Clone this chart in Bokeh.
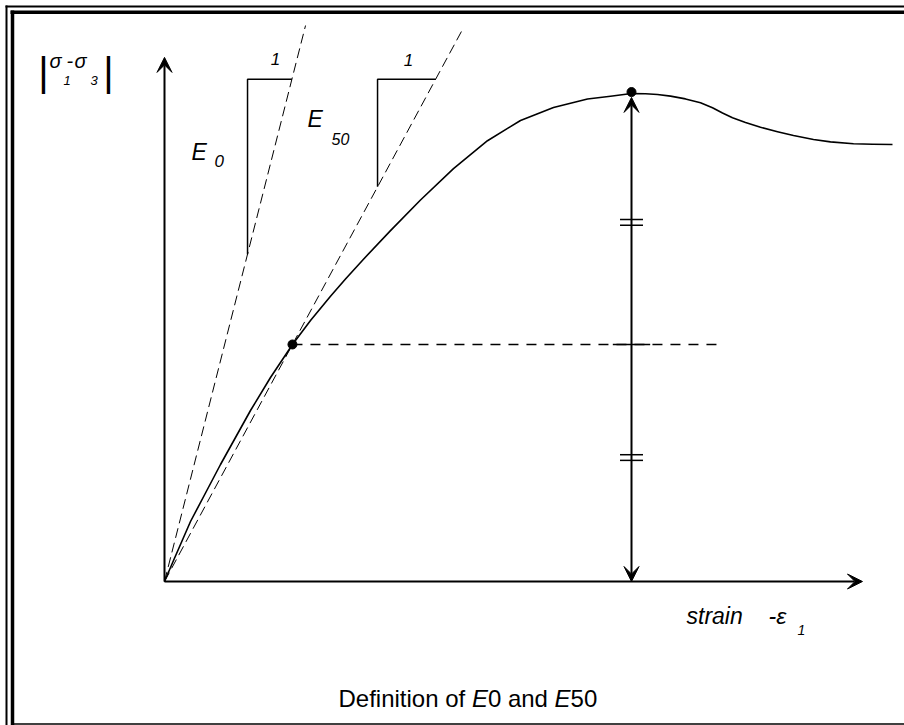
from bokeh.plotting import figure
from bokeh.models import Range1d, Arrow, VeeHead, Label
from bokeh.embed import file_html
from bokeh.resources import INLINE

# ---------------- data ----------------
# stress-strain curve: strain (arbitrary units) vs deviatoric stress (% of peak)
strain = [0.0, 0.0964, 0.2784, 0.4390, 0.5996, 0.7602, 0.9208, 1.1349, 1.3704,
          1.5632, 1.7773, 1.9379, 2.1306, 2.4197, 2.7409, 3.0942, 3.4582, 3.8116,
          4.1649, 4.5289, 4.7752, 5.0, 5.1499, 5.2784, 5.4176, 5.5782, 5.7388,
          5.8672, 5.9743, 6.0814, 6.2206, 6.3812, 6.5632, 6.7345, 6.9486, 7.1306,
          7.3769, 7.5803, 7.7944]
stress = [0.0, 4.303, 12.295, 18.135, 23.975, 29.508, 35.041, 41.803, 48.566,
          53.463, 58.463, 61.988, 66.045, 71.906, 78.176, 84.611, 90.328, 94.467,
          97.131, 98.873, 99.426, 100.0, 99.939, 99.795, 99.467, 98.893, 98.115,
          97.090, 96.004, 95.041, 94.057, 93.074, 92.172, 91.393, 90.574, 90.082,
          89.713, 89.590, 89.549]

peak_strain = 5.0
peak_stress = 100.0
eps50 = 1.37          # strain at the E50 point
q50 = 48.57           # stress level of the E50 point
E0 = 75.45            # initial tangent slope
E50 = q50 / eps50     # secant slope
E0_line_end = 1.51    # strain where the E0 dashed line stops
E50_line_end = 3.20
E0_tri_x = 0.889      # left side of the slope triangle
E50_tri_x = 2.281
tri_top = 102.9
x_axis_end = 7.473
y_axis_end = 107.4
half_line_end = 5.921
tick_levels = [73.6, 25.4]

# ---------------- layout ----------------
W, H = 904, 725
PX0, PY0 = 164.0, 581.0     # pixel of the origin
SX, SY = 93.4, 4.88         # pixels per data unit


def X(px):
    return (px - PX0) / SX


def Y(py):
    return (PY0 - py) / SY


p = figure(width=W, height=H, output_backend="svg", toolbar_location=None,
           x_range=Range1d(X(0), X(W)), y_range=Range1d(Y(H), Y(0)),
           x_axis_location=None, y_axis_location=None,
           min_border=0, min_border_left=0, min_border_right=0,
           min_border_top=0, min_border_bottom=0)
p.grid.visible = False
p.outline_line_color = None
p.background_fill_color = "white"
p.border_fill_color = "white"

# frame border (double line at top/left, single at bottom), as separate segments
p.segment(x0=[X(5), X(6)], y0=[Y(6), Y(5)], x1=[X(904), X(6)], y1=[Y(6), Y(725)],
          line_color="black", line_width=2)
p.segment(x0=[X(10), X(12)], y0=[Y(11.8), Y(10)], x1=[X(904), X(12)], y1=[Y(11.8), Y(725)],
          line_color="black", line_width=3.5)
p.segment(x0=[X(12)], y0=[Y(723.5)], x1=[X(904)], y1=[Y(723.5)],
          line_color="black", line_width=1.5)

# axes with arrows
p.add_layout(Arrow(end=VeeHead(size=15, fill_color="black", line_color="black"),
                   x_start=0, y_start=0, x_end=0, y_end=y_axis_end,
                   line_width=2, line_color="black"))
p.add_layout(Arrow(end=VeeHead(size=15, fill_color="black", line_color="black"),
                   x_start=0, y_start=0, x_end=x_axis_end, y_end=0,
                   line_width=2, line_color="black"))

# tangent / secant dashed lines
p.line([0, E0_line_end], [0, E0 * E0_line_end], line_color="black",
       line_width=1, line_dash="10 5")
p.line([0, E50_line_end], [0, E50 * E50_line_end], line_color="black",
       line_width=1, line_dash="10 5")

# slope triangles
p.line([E0_tri_x, E0_tri_x, tri_top / E0], [E0 * E0_tri_x, tri_top, tri_top],
       line_color="black", line_width=1.5)
p.line([E50_tri_x, E50_tri_x, tri_top / E50], [E50 * E50_tri_x, tri_top, tri_top],
       line_color="black", line_width=1.5)

# stress-strain curve
p.line(strain, stress, line_color="black", line_width=1.6, line_join="round")

# half-peak dashed line
p.line([eps50, half_line_end], [q50, q50], line_color="black",
       line_width=1.5, line_dash="10 8")
p.line([peak_strain - 0.2, peak_strain + 0.2], [q50, q50],
       line_color="black", line_width=1.5)

# double arrow from axis to peak
p.add_layout(Arrow(start=VeeHead(size=15, fill_color="black", line_color="black"),
                   end=VeeHead(size=15, fill_color="black", line_color="black"),
                   x_start=peak_strain, y_start=0, x_end=peak_strain, y_end=peak_stress - 0.8,
                   line_width=2, line_color="black"))

# equal-length tick marks
dx = 0.123
for lvl in tick_levels:
    for off in (-0.58, 0.58):
        p.line([peak_strain - dx, peak_strain + dx], [lvl + off, lvl + off],
               line_color="black", line_width=1.5)

# points
p.scatter([eps50, peak_strain], [q50, peak_stress + 0.3], size=9,
          fill_color="black", line_color="black")

FONT = "Liberation Sans"
SHIFT = 0.37   # labels render ~0.37 em below the requested baseline


def lab(px, py, text, size, style="italic", align="left"):
    p.add_layout(Label(x=X(px), y=Y(py - SHIFT * size), text=text, text_font=FONT,
                       text_font_size=f"{size}px", text_font_style=style,
                       text_align=align, text_baseline="alphabetic",
                       text_color="black"))


# E0 and E50 labels
lab(191, 160, "E", 23)
lab(214, 167, "0", 17)
lab(307, 127, "E", 23)
lab(331, 144, "50", 16)
lab(275, 65, "1", 17, align="center")
lab(408, 66, "1", 17, align="center")

# y label |σ1-σ3|
lab(43, 86, "|", 40, style="normal", align="center")
lab(49, 68, "σ", 20)
lab(66, 68, "-", 20)
lab(74, 68, "σ", 20)
lab(63, 85, "1", 13)
lab(90, 85, "3", 13)
lab(108, 86, "|", 40, style="normal", align="center")

# x label
lab(686, 624, "strain", 23)
lab(768, 624, "-ε", 23)
lab(797, 635, "1", 14)

# caption: "Definition of E0 and E50" with italic E's
lab(338, 707, "Definition of", 24, style="normal")
lab(471.4, 707, "E", 24)
lab(487.4, 707, "0 and", 24, style="normal")
lab(554.1, 707, "E", 24)
lab(570.1, 707, "50", 24, style="normal")

open("out.html", "w").write(file_html(p, INLINE))
